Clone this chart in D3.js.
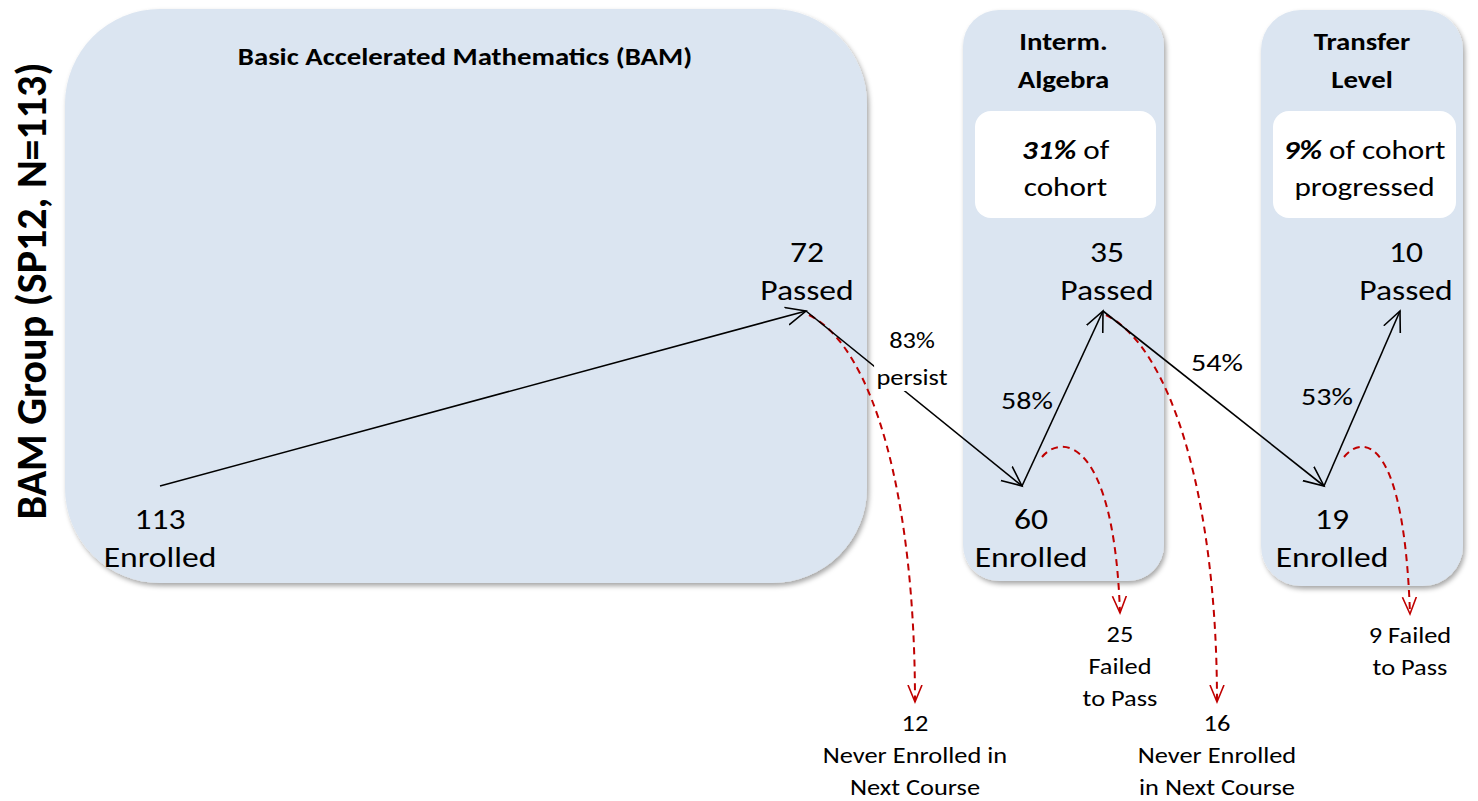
<!DOCTYPE html>
<html>
<head>
<meta charset="utf-8">
<script src="https://cdn.jsdelivr.net/npm/d3@7"></script>
<style>
  body { margin: 0; background: #fff; }
  text { font-family: Carlito, Calibri, Lato, sans-serif; fill: #000; }
</style>
</head>
<body>
<svg id="chart" width="1478" height="801"></svg>
<script>
// cohort flow data
var groupLabel = "BAM Group (SP12, N=113)";
var stageTitles = [["Basic Accelerated Mathematics (BAM)"], ["Interm.", "Algebra"], ["Transfer", "Level"]];
var cohortShare = [null, "31%", "9%"];
var cohortText = [null, [" of", "cohort"], [" of cohort", "progressed"]];

var nodeIds = ["n0", "n1", "n2", "n3", "n4", "n5"];
var nodeStatus = ["Enrolled", "Passed", "Enrolled", "Passed", "Enrolled", "Passed"];
var nodeCounts = [113, 72, 60, 35, 19, 10];

var rateLabels = [null, ["83%", "persist"], ["58%"], ["54%"], ["53%"]];

var dropFrom = ["n1", "n2", "n3", "n4"];
var dropCounts = [12, 25, 16, 9];
var dropCaptions = [["Never Enrolled in", "Next Course"], ["Failed", "to Pass"], ["Never Enrolled", "in Next Course"], ["Failed", "to Pass"]];
var dropInline = [false, false, false, true];

// layout
var svg = d3.select("#chart");
var stretchX = 1.2; // text in the original is drawn wide
var panelBox = [[65, 9, 802, 574, 95], [963, 10, 201, 571, 36], [1261, 10, 202, 576, 40]];
var noteBox = [null, [975, 111, 181, 107], [1273, 111, 183, 107]];
var x = d3.scaleOrdinal().domain(nodeIds).range([160, 806, 1022, 1103, 1324, 1400]);
var y = d3.scaleOrdinal().domain(["Enrolled", "Passed"]).range([486, 311]);
var labelDx = [0, 1, 9, 4, 8, 6];
var rateX = [null, 912, 1027, 1217, 1327];
var rateY = [null, 348, 409, 371, 405];
var dropEnd = d3.scaleOrdinal().domain(dropFrom).range([[915, 702], [1120, 613], [1217, 702], [1410, 614]]);

function stretch(sel, cx) {
  sel.attr("transform", "translate(" + cx + ",0) scale(" + stretchX + ",1) translate(" + (-cx) + ",0)");
}

var defs = svg.append("defs");
var shadow = defs.append("filter").attr("id", "shadow")
    .attr("x", "-5%").attr("y", "-5%").attr("width", "115%").attr("height", "115%");
shadow.append("feDropShadow")
    .attr("dx", 2).attr("dy", 3).attr("stdDeviation", 2.5)
    .attr("flood-color", "#000").attr("flood-opacity", 0.35);

defs.append("marker").attr("id", "arrow-black")
    .attr("markerUnits", "userSpaceOnUse")
    .attr("markerWidth", 24).attr("markerHeight", 22)
    .attr("refX", 20).attr("refY", 10).attr("orient", "auto")
  .append("path").attr("d", "M0,1 L20,10 L0,19")
    .attr("fill", "none").attr("stroke", "#000").attr("stroke-width", 1.6);

defs.append("marker").attr("id", "arrow-red")
    .attr("markerUnits", "userSpaceOnUse")
    .attr("markerWidth", 20).attr("markerHeight", 18)
    .attr("refX", 17).attr("refY", 8).attr("orient", "auto")
  .append("path").attr("d", "M0,1 L17,8 L0,15")
    .attr("fill", "none").attr("stroke", "#c00000").attr("stroke-width", 1.6);

// panels
svg.selectAll(".panel")
  .data(panelBox)
  .enter().append("rect")
    .attr("class", "panel")
    .attr("x", function(d) { return d[0]; })
    .attr("y", function(d) { return d[1]; })
    .attr("width", function(d) { return d[2]; })
    .attr("height", function(d) { return d[3]; })
    .attr("rx", function(d) { return d[4]; })
    .attr("fill", "#dbe5f1")
    .attr("filter", "url(#shadow)");

svg.selectAll(".note")
  .data(noteBox.filter(function(d) { return d; }))
  .enter().append("rect")
    .attr("class", "note")
    .attr("x", function(d) { return d[0]; })
    .attr("y", function(d) { return d[1]; })
    .attr("width", function(d) { return d[2]; })
    .attr("height", function(d) { return d[3]; })
    .attr("rx", 16)
    .attr("fill", "#fff");

// stage titles
stageTitles.forEach(function(lines, i) {
  var p = panelBox[i];
  var cx = p[0] + p[2] / 2 + (i == 0 ? -1 : 0);
  var t = svg.append("text")
      .attr("text-anchor", "middle")
      .attr("font-weight", "bold")
      .attr("font-size", 24);
  lines.forEach(function(line, j) {
    t.append("tspan")
      .attr("x", cx)
      .attr("y", (i == 0 ? 65 : 50) + j * 38)
      .text(line);
  });
  stretch(t, cx);
});

// cohort share notes
cohortShare.forEach(function(share, i) {
  if (!share) return;
  var b = noteBox[i];
  var cx = b[0] + b[2] / 2;
  var t = svg.append("text").attr("text-anchor", "middle").attr("font-size", 26);
  var first = t.append("tspan").attr("x", cx).attr("y", 159);
  first.append("tspan").attr("font-weight", "bold").attr("font-style", "italic").text(share);
  first.append("tspan").text(cohortText[i][0]);
  t.append("tspan").attr("x", cx).attr("y", 196).text(cohortText[i][1]);
  stretch(t, cx);
});

// red drop-out curves
function dropPath(id) {
  var i = nodeIds.indexOf(id);
  var end = dropEnd(id);
  var sx, sy;
  if (nodeStatus[i] == "Passed") {
    sx = x(id) + 3; sy = y("Passed") + 4;
    return "M" + sx + "," + sy + " C" + (sx + 64) + "," + (sy + 32) + " " + end[0] + "," + (sy + 180) + " " + end[0] + "," + end[1];
  }
  sx = x(id) + 20; sy = y("Enrolled") - 29;
  return "M" + sx + "," + sy + " C" + (sx + 20) + "," + (sy - 24) + " " + (end[0] - 6) + "," + (sy - 18) + " " + end[0] + "," + end[1];
}

svg.selectAll(".drop")
  .data(dropFrom)
  .enter().append("path")
    .attr("class", "drop")
    .attr("d", dropPath)
    .attr("fill", "none")
    .attr("stroke", "#c00000")
    .attr("stroke-width", 2)
    .attr("stroke-dasharray", "7,5")
    .attr("marker-end", "url(#arrow-red)");

// main flow
var links = d3.pairs(nodeIds);
svg.selectAll(".flow")
  .data(links)
  .enter().append("line")
    .attr("class", "flow")
    .attr("x1", function(d) { return x(d[0]); })
    .attr("y1", function(d) { return y(nodeStatus[nodeIds.indexOf(d[0])]); })
    .attr("x2", function(d) { return x(d[1]); })
    .attr("y2", function(d) { return y(nodeStatus[nodeIds.indexOf(d[1])]); })
    .attr("stroke", "#000")
    .attr("stroke-width", 1.6)
    .attr("marker-end", "url(#arrow-black)");

// node labels
nodeIds.forEach(function(id, i) {
  var cx = x(id) + labelDx[i];
  var base = nodeStatus[i] == "Enrolled" ? y("Enrolled") + 43 : y("Passed") - 49;
  var t = svg.append("text").attr("text-anchor", "middle").attr("font-size", 28);
  t.append("tspan").attr("x", cx).attr("y", base).text(nodeCounts[i]);
  t.append("tspan").attr("x", cx).attr("y", base + 38).text(nodeStatus[i]);
  stretch(t, cx);
});

// rate labels
rateLabels.forEach(function(lines, i) {
  if (!lines) return;
  var g = svg.append("g");
  var t = g.append("text").attr("text-anchor", "middle")
      .attr("font-size", lines.length > 1 ? 22 : 25);
  lines.forEach(function(line, j) {
    t.append("tspan").attr("x", rateX[i]).attr("y", rateY[i] + j * 37).text(line);
  });
  if (lines.length > 1) {
    var bb = t.node().getBBox();
    g.insert("rect", "text")
      .attr("x", bb.x - 2).attr("y", bb.y + 34)
      .attr("width", bb.width + 4).attr("height", bb.height - 34)
      .attr("fill", "#fff");
  }
  stretch(g, rateX[i]);
});

// drop labels
dropFrom.forEach(function(id, i) {
  var end = dropEnd(id);
  var lines = dropInline[i] ? [dropCounts[i] + " " + dropCaptions[i][0], dropCaptions[i][1]]
                            : [dropCounts[i]].concat(dropCaptions[i]);
  var t = svg.append("text").attr("text-anchor", "middle").attr("font-size", 22);
  lines.forEach(function(line, j) {
    t.append("tspan").attr("x", end[0]).attr("y", end[1] + 29 + j * 32).text(line);
  });
  stretch(t, end[0]);
});

// group label
var gl = svg.append("text")
    .attr("transform", "translate(46,291) rotate(-90)")
    .attr("text-anchor", "middle")
    .attr("font-weight", "bold")
    .attr("font-size", 42)
    .text(groupLabel);
gl.attr("textLength", 457).attr("lengthAdjust", "spacingAndGlyphs");
</script>
</body>
</html>
